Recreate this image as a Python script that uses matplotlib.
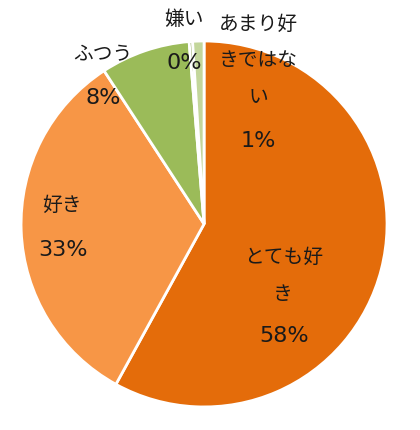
import matplotlib.pyplot as plt

# 数字は DejaVu Sans、かなは Noto Sans CJK JP にフォールバック
plt.rcParams['font.family'] = ['DejaVu Sans', 'Noto Sans CJK JP']

# 回答の割合（時計回り、12時から）
labels = ['とても好き', '好き', 'ふつう', '嫌い', 'あまり好きではない']
values = [58.0, 32.8, 7.9, 0.3, 1.0]
pct_text = ['58%', '33%', '8%', '0%', '1%']
colors = ['#E46C0A', '#F79646', '#9BBB59', '#77933C', '#C3D69B']

# ラベル（改行位置は元の図に合わせる）
label_text = ['とても好\nき', '好き', 'ふつう', '嫌い', 'あまり好\nきではな\nい']
label_pos = [(0.432, -0.284), (-0.776, 0.104), (-0.552, 0.923), (-0.11, 1.115), (0.295, 0.891)]
pct_pos = [(0.437, -0.645), (-0.770, -0.175), (-0.552, 0.656), (-0.11, 0.847), (0.295, 0.421)]

fig = plt.figure(figsize=(4.2, 4.3), dpi=100)
ax = fig.add_axes([0, 0, 1, 1])

ax.pie(values, colors=colors, startangle=90, counterclock=False,
       radius=1, center=(0, 0),
       wedgeprops={'edgecolor': 'white', 'linewidth': 2})

for txt, (x, y) in zip(label_text, label_pos):
    ax.text(x, y, txt, ha='center', va='center',
            fontsize=14.2, linespacing=2.2, color='#1a1a1a')

for pct, (x, y) in zip(pct_text, pct_pos):
    ax.text(x, y, pct, ha='center', va='baseline',
            fontsize=16, color='#1a1a1a')

ax.set_xlim(-1.115, 1.18)
ax.set_ylim(-1.126, 1.224)
ax.set_aspect('equal')
ax.axis('off')

fig.savefig('out.png', dpi=100, facecolor='white')
